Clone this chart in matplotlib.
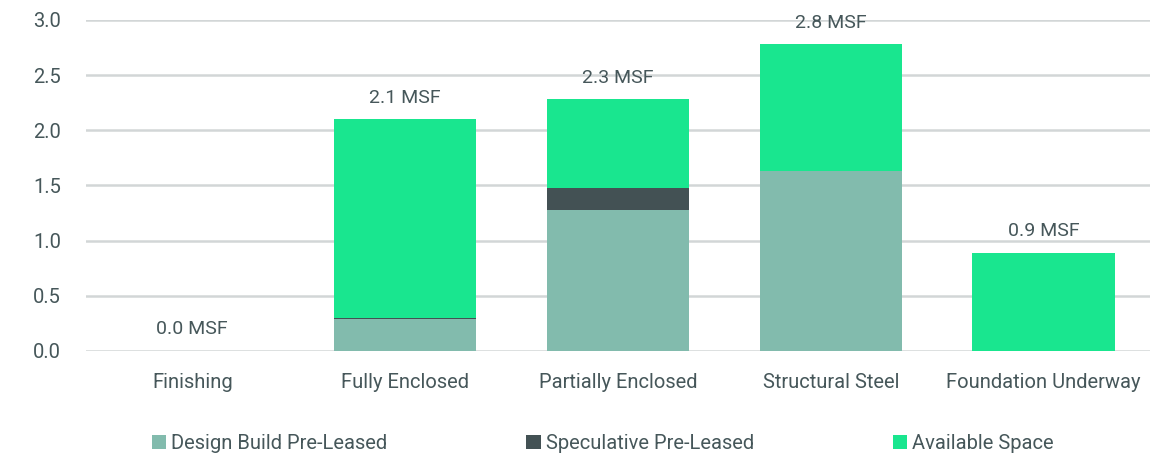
import numpy as np
import matplotlib.pyplot as plt

plt.rcParams['font.family'] = ['Roboto', 'DejaVu Sans']

# Data (MSF)
categories = ["Finishing", "Fully Enclosed", "Partially Enclosed", "Structural Steel", "Foundation Underway"]
design_build = [0.0, 0.29, 1.28, 1.63, 0.0]
speculative = [0.0, 0.01, 0.20, 0.0, 0.0]
available = [0.0, 1.80, 0.80, 1.15, 0.89]
totals = ["0.0 MSF", "2.1 MSF", "2.3 MSF", "2.8 MSF", "0.9 MSF"]

c_design = "#82bbad"
c_spec = "#435154"
c_avail = "#19e68f"
c_text = "#46575a"
c_grid = "#d2d6d7"

fig = plt.figure(figsize=(11.76, 4.55), dpi=100)
ax = fig.add_axes([0.073, 0.2286, 0.905, 0.7275])

x = np.arange(len(categories))
w = 0.67
d = np.array(design_build)
s = np.array(speculative)
a = np.array(available)

ax.bar(x, d, w, color=c_design, label="Design Build Pre-Leased", zorder=2)
ax.bar(x, s, w, bottom=d, color=c_spec, label="Speculative Pre-Leased", zorder=2)
ax.bar(x, a, w, bottom=d + s, color=c_avail, label="Available Space", zorder=2)

tops = d + s + a
for xi, top, lab in zip(x, tops, totals):
    ax.annotate(lab, (xi, top), xytext=(0, 9), textcoords="offset points",
                ha="center", va="bottom", fontsize=14, color=c_text)

ax.set_xlim(-0.5, 4.5)
ax.set_ylim(0, 3.0)
ax.set_yticks(np.arange(0, 3.01, 0.5))
ax.set_yticklabels([f"{v:.1f}" for v in np.arange(0, 3.01, 0.5)])
ax.set_xticks(x)
ax.set_xticklabels(categories)
ax.tick_params(axis="both", length=0, labelsize=14.5, colors=c_text)
ax.tick_params(axis="y", pad=18)
ax.tick_params(axis="x", pad=16)
ax.yaxis.grid(True, color=c_grid, linewidth=1.8, zorder=0)
ax.set_axisbelow(True)
for sp in ax.spines.values():
    sp.set_visible(False)

leg = fig.legend(loc="lower left", bbox_to_anchor=(0.114, -0.035), ncol=3, frameon=False,
                 fontsize=14.5, handlelength=0.7, handleheight=0.7, handletextpad=0.25,
                 columnspacing=6.9, labelcolor=c_text)

plt.savefig("out.png", dpi=100)
